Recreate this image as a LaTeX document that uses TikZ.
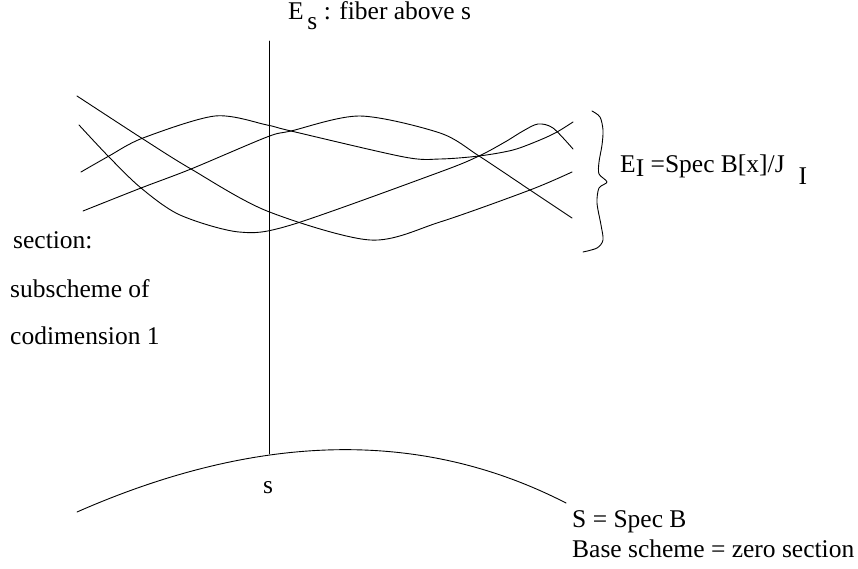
\documentclass[tikz,border=0pt]{standalone}
\usepackage{fontspec}
\setmainfont{Liberation Serif}
\begin{document}
\begin{tikzpicture}[x=1pt,y=-1pt,line cap=round,line join=round,
  every node/.style={inner sep=0pt,anchor=base west,font=\fontsize{25.5}{30}\selectfont}]
  \useasboundingbox (0,0) rectangle (858,569);
  \coordinate (Ftop) at (269,41);
  \coordinate (Fbot) at (269,454);
  \coordinate (S0) at (77,512);
  \coordinate (S1) at (566,503);
  \draw[line width=0.9pt] (Ftop) -- (Fbot);
  \draw[line width=0.9pt] (S0) .. controls (259,432) and (422,429) .. (S1);
  \draw[line width=0.9pt] plot[smooth] coordinates {(77,96) (143,139) (191,169) (267,211) (370,240) (440,222) (530,190) (572,172)};
  \draw[line width=0.9pt] plot[smooth] coordinates {(79,125) (109,157) (141,188) (180,215) (239,232) (291,225) (440,172) (479,156) (505,142) (523,131) (538,124) (553,128) (573,149)};
  \draw[line width=0.9pt] plot[smooth] coordinates {(81,172) (109,156) (143,138) (215,116) (267,125) (291,131) (404,157) (440,159) (479,156) (513,150) (540,140) (557,132) (573,122)};
  \draw[line width=0.9pt] plot[smooth] coordinates {(83,211) (141,188) (191,169) (267,137) (291,131) (360,116) (440,133) (479,156) (530,190) (572,218)};
  \draw[line width=0.9pt] plot[smooth] coordinates {(592,111) (600,117) (603,130) (602,145) (599,162) (599,174) (607,182) (599,188) (597,203) (601,225) (603,240) (597,248) (583,252)};
  \node (fiber) at (288,20) {E\hspace{3.7pt}\raisebox{-10pt}{s} : fiber above s};
  \node (EI) at (620,173) {E\raisebox{-4pt}{I} =Spec B[x]/J\hspace{14pt}\raisebox{-12pt}{I}};
  \node (sec1) at (13,248) {section:};
  \node (sec2) at (10,297) {subscheme of};
  \node (sec3) at (10,344) {codimension 1};
  \node (pt) at (263,493) {s};
  \node (base1) at (572,527) {S = Spec B};
  \node (base2) at (572,557) {Base scheme = zero section};
\end{tikzpicture}
\end{document}
